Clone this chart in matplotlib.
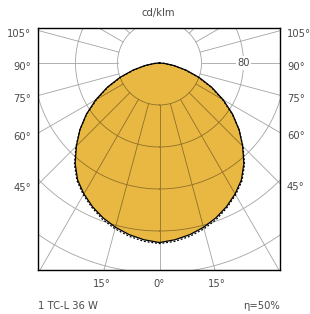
import numpy as np
import matplotlib
matplotlib.use("Agg")
import matplotlib.pyplot as plt
from matplotlib import font_manager as fm
from matplotlib.transforms import blended_transform_factory

# ---- data (cd/klm) ----
angles_deg = [0, 5, 10, 15, 20, 25, 30, 35, 40, 45, 50, 55, 60, 65, 70, 75, 80, 85, 90]
c0_180 = [171, 169, 166, 162, 157, 151, 144, 136, 125, 112, 99, 85, 70, 55, 40, 26, 14, 5, 0]
c90_270 = [172, 170.5, 167.5, 163.5, 158.5, 152, 145, 137, 126, 112.5, 99, 84.5, 69, 54, 39, 25, 13, 4, 0]
ring_values = [40, 80, 120, 160, 200, 240]
ring_label = "80"
side_angle_labels = [105, 90, 75, 60, 45]
bottom_angle_labels = [-15, 0, 15]
unit_label = "cd/klm"
lamp_label = "1 TC-L 36 W"
eff_label = "η=50%"

# pick a narrow/condensed font if installed
fp = None
cands = [f for f in fm.fontManager.ttflist]
for key in ['LiberationSansNarrow-Regular', 'DejaVuSansCondensed.ttf', 'Condensed-Regular', 'Narrow']:
    hits = [f.fname for f in cands if key.lower() in f.fname.lower()
            and 'bold' not in f.fname.lower() and 'italic' not in f.fname.lower()
            and 'oblique' not in f.fname.lower()]
    if hits:
        fp = fm.FontProperties(fname=hits[0])
        break
if fp is None:
    fp = fm.FontProperties(family='DejaVu Sans')
    fs = 7.0
else:
    fs = 8.0

txt_col = '#4a4a4a'
grid_col = '#a3a3a3'
grid_on_fill = '#8f6f28'
fill_col = '#E9B843'

W, H = 310, 314
fig = plt.figure(figsize=(W / 100, H / 100), dpi=100)
bx0, bx1, by0, by1 = 38, 280, 28, 270
ax = fig.add_axes([bx0 / W, 1 - by1 / H, (bx1 - bx0) / W, (by1 - by0) / H])
pxu = 1.05  # pixels per cd/klm
ox, oy = 159.5, 63
ax.set_xlim((bx0 - ox) / pxu, (bx1 - ox) / pxu)
ax.set_ylim(-(by1 - oy) / pxu, (oy - by0) / pxu)
ax.set_aspect('equal', adjustable='box')
ax.set_xticks([])
ax.set_yticks([])
for s in ax.spines.values():
    s.set_linewidth(1.0)
    s.set_color('black')


def curve(vals):
    a = np.radians(np.array(angles_deg, dtype=float))
    v = np.array(vals, dtype=float)
    full_a = np.concatenate([-a[::-1], a[1:]])
    full_v = np.concatenate([v[::-1], v[1:]])
    return full_v * np.sin(full_a), -full_v * np.cos(full_a)


def grid(color, z, clip=None):
    t = np.linspace(0, 2 * np.pi, 721)
    arts = []
    for r in ring_values:
        arts += ax.plot(r * np.sin(t), -r * np.cos(t), color=color, lw=0.6, zorder=z)
    r0, r1 = ring_values[0], 400
    for phi in range(0, 360, 15):
        p = np.radians(phi)
        arts += ax.plot([r0 * np.sin(p), r1 * np.sin(p)], [-r0 * np.cos(p), -r1 * np.cos(p)],
                        color=color, lw=0.6, zorder=z)
    if clip is not None:
        for a_ in arts:
            a_.set_clip_path(clip)


grid(grid_col, 1)
x0, y0 = curve(c0_180)
poly = ax.fill(x0, y0, color=fill_col, lw=0, zorder=2)[0]
grid(grid_on_fill, 3, clip=poly)
ax.plot(x0, y0, color='black', lw=0.9, zorder=4)
x9, y9 = curve(c90_270)
ax.plot(x9, y9, color='black', lw=0.9, ls=(0, (1.5, 1.5)), zorder=4)

ax.text(80, 0, ring_label, ha='center', va='center', fontproperties=fp, fontsize=fs, color=txt_col,
        bbox=dict(boxstyle='square,pad=0.15', fc='white', ec='none'), zorder=5)

xl, xr = ax.get_xlim()
tb = blended_transform_factory(ax.transAxes, ax.transData)
for ang in side_angle_labels:
    th = np.radians(ang)
    yl = -(-xl) / np.tan(th) - 3.5 / pxu
    yr = -xr / np.tan(th) - 3.5 / pxu
    ax.text(-7 / 242, yl, f"{ang}°", ha='right', va='center', fontproperties=fp, fontsize=fs,
            color=txt_col, transform=tb, clip_on=False)
    ax.text(1 + 7 / 242, yr, f"{ang}°", ha='left', va='center', fontproperties=fp, fontsize=fs,
            color=txt_col, transform=tb, clip_on=False)

yb = ax.get_ylim()[0]
tb2 = blended_transform_factory(ax.transData, ax.transAxes)
for ang in bottom_angle_labels:
    xb = -yb * np.tan(np.radians(ang))
    xb = xb + np.sign(ang) * 2 / pxu
    ax.text(xb, -14 / 242, f"{abs(ang)}°", ha='center', va='center', fontproperties=fp, fontsize=fs,
            color=txt_col, transform=tb2, clip_on=False)

ax.text(0.5 - 0.5 / 242, 1 + 15 / 242, unit_label, ha='center', va='center', fontproperties=fp,
        fontsize=fs, color=txt_col, transform=ax.transAxes)
ax.text(0, -36 / 242, lamp_label, ha='left', va='center', fontproperties=fp, fontsize=fs,
        color=txt_col, transform=ax.transAxes)
ax.text(1.0, -36 / 242, eff_label, ha='right', va='center', fontproperties=fp, fontsize=fs,
        color=txt_col, transform=ax.transAxes)

fig.savefig('out.png', dpi=100)
